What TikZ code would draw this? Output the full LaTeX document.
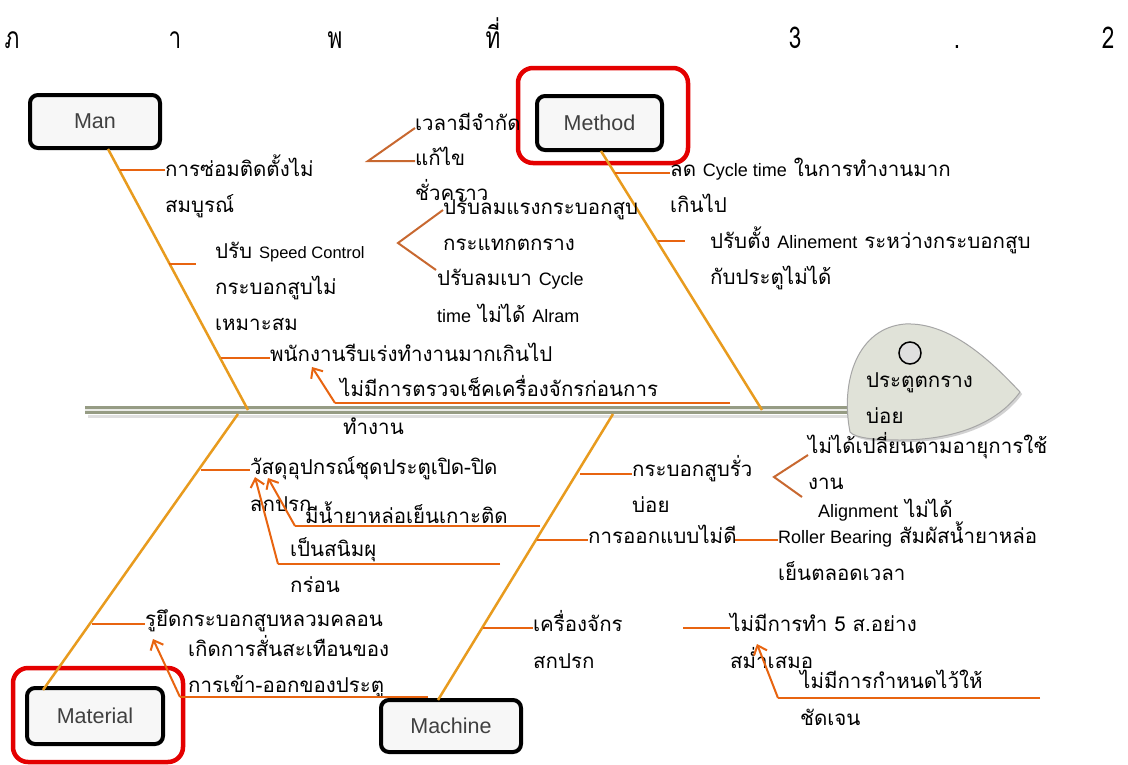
\documentclass[tikz,border=0pt]{standalone}
\usepackage{fontspec}
\usepackage{graphicx}
\usetikzlibrary{arrows.meta,shadows}
\newfontfamily\thai[Script=Thai]{Loma}
\newfontfamily\lat{Liberation Sans}
\newcommand\en[1]{{\lat\fontsize{18}{20}\selectfont #1}}
\newcommand\ens[1]{{\lat\fontsize{16.5}{18}\selectfont #1}}
\definecolor{bonec}{RGB}{232,155,30}
\definecolor{subc}{RGB}{232,100,16}
\definecolor{brc}{RGB}{200,104,48}
\definecolor{redc}{RGB}{228,0,0}
\definecolor{spinec}{RGB}{150,156,132}
\definecolor{headc}{RGB}{224,226,216}
\begin{document}
\begin{tikzpicture}[x=1pt,y=-1pt,
 lbl/.style={anchor=base west, inner sep=0pt, font=\thai\fontsize{20.5}{24}\selectfont},
 catbox/.style={draw=black, line width=4pt, rounded corners=8pt, fill=gray!6, font=\lat\fontsize{21.5}{24}\selectfont, text=black!75},
 redbox/.style={draw=redc, line width=4.5pt, rounded corners=15pt},
 bone/.style={draw=bonec, line width=2.5pt},
 subl/.style={draw=subc, line width=2pt},
 brk/.style={draw=brc, line width=2pt},
 arr/.style={draw=subc, line width=2pt, -{Straight Barb[length=8pt,width=14pt]}},
 ttl/.style={anchor=base, inner sep=0pt, font=\thai\fontsize{30}{30}\selectfont}]
\useasboundingbox (0,0) rectangle (1128,764);
\fill[white] (0,0) rectangle (1128,764);

% title
\node[ttl] (t1) at (12,48) {\scalebox{0.75}[1]{ภ}};
\node[ttl] (t2) at (175,48) {\scalebox{0.75}[1]{า}};
\node[ttl] (t3) at (335,48) {\scalebox{0.75}[1]{พ}};
\node[ttl] (t4) at (493,48) {\scalebox{0.75}[1]{ที่}};
\node[ttl] (t5) at (795,48) {\scalebox{0.75}[1]{3}};
\node[ttl] (t6) at (957,48) {\scalebox{0.75}[1]{.}};
\node[ttl] (t7) at (1108,48) {\scalebox{0.75}[1]{2}};

% spine
\coordinate (spL) at (85,410);
\coordinate (spR) at (860,410);
\draw[line width=3pt, gray!25] (88,416) -- (858,416);
\draw[line width=8pt, spinec] (spL) -- (spR);
\draw[line width=2pt, white!80!spinec] (spL) -- (spR);

% head
\path[fill=headc, draw=gray!70, line width=1pt, drop shadow={opacity=0.35}] (850,432) .. controls (840,380) and (858,328) .. (905,324) .. controls (950,322) and (990,360) .. (1020,392) .. controls (1000,420) and (960,440) .. (900,440) .. controls (875,440) and (855,438) .. (850,432) -- cycle;
\node[draw=black, line width=1.5pt, circle, minimum size=22pt, inner sep=0pt, fill=gray!25] (hole) at (910,353) {};
\node[lbl] (h1) at (866,387) {ประตูตกราง};
\node[lbl] (h2) at (866,423) {บ่อย};

% category boxes
\node[redbox, minimum width=170pt, minimum height=95pt] (methodR) at (603,115.5) {};
\node[redbox, minimum width=170pt, minimum height=94pt] (materialR) at (98,715) {};
\node[catbox, minimum width=130pt, minimum height=53pt] (man) at (95,121.5) {Man};
\node[catbox, minimum width=125pt, minimum height=54pt] (method) at (599.5,123) {Method};
\node[catbox, minimum width=136pt, minimum height=56pt] (material) at (95,716) {Material};
\node[catbox, minimum width=140pt, minimum height=52pt] (machine) at (451,726) {Machine};

% bones
\coordinate (manS) at (108,149);
\coordinate (manE) at (248,410);
\coordinate (metS) at (601,151);
\coordinate (metE) at (762,410);
\coordinate (matS) at (43,690);
\coordinate (matE) at (238,414);
\coordinate (macS) at (438,700);
\coordinate (macE) at (613,414);
\draw[bone] (manS) -- (manE);
\draw[bone] (metS) -- (metE);
\draw[bone] (matS) -- (matE);
\draw[bone] (macS) -- (macE);

% ---- Man ----
\node[lbl] (m1a) at (165,176) {การซ่อมติดตั้งไม่};
\node[lbl] (m1b) at (165,212) {สมบูรณ์};
\coordinate (m1s) at (120,170);
\draw[subl] (m1s) -- (m1a.west |- m1s);
\node[lbl] (m2a) at (415,130) {เวลามีจำกัด};
\node[lbl] (m2b) at (415,165) {แก้ไข};
\node[lbl] (m2c) at (415,200) {ชั่วคราว};
\coordinate (b1v) at (368,161);
\draw[brk] (m2a.west |- 0,128) -- (b1v) -- (m2b.west |- b1v);
\node[lbl] (m3a) at (215,258) {ปรับ \ens{Speed Control}};
\node[lbl] (m3b) at (215,294) {กระบอกสูบไม่};
\node[lbl] (m3c) at (215,330) {เหมาะสม};
\coordinate (m3s) at (169,264);
\coordinate (m3e) at (196,264);
\draw[subl] (m3s) -- (m3e);
\node[lbl] (m4a) at (443,214) {ปรับลมแรงกระบอกสูบ};
\node[lbl] (m4b) at (443,250) {กระแทกตกราง};
\node[lbl] (m5a) at (437,285) {ปรับลมเบา \en{Cycle}};
\node[lbl] (m5b) at (437,322) {\en{time} ไม่ได้ \en{Alram}};
\coordinate (b2v) at (398,243);
\coordinate (b2u) at (443,210);
\coordinate (b2d) at (436,270);
\draw[brk] (b2u) -- (b2v) -- (b2d);
\node[lbl] (m6) at (270,361) {พนักงานรีบเร่งทำงานมากเกินไป};
\coordinate (m6s) at (221,358);
\draw[subl] (m6s) -- (m6.west |- m6s);
\node[lbl] (m7a) at (340,396) {ไม่มีการตรวจเช็คเครื่องจักรก่อนการ};
\node[lbl] (m7b) at (343,434) {ทำงาน};
\coordinate (m7s) at (335,403);
\coordinate (m7e) at (730,403);
\coordinate (m7t) at (312,367);
\draw[subl] (m7e) -- (m7s);
\draw[arr] (m7s) -- (m7t);

% ---- Method ----
\node[lbl] (d1a) at (670,176) {ลด \en{Cycle time} ในการทำงานมาก};
\node[lbl] (d1b) at (670,212) {เกินไป};
\coordinate (d1s) at (615,173);
\draw[subl] (d1s) -- (d1a.west |- d1s);
\node[lbl] (d2a) at (710,248) {ปรับตั้ง \en{Alinement} ระหว่างกระบอกสูบ};
\node[lbl] (d2b) at (710,284) {กับประตูไม่ได้};
\coordinate (d2s) at (658,241);
\coordinate (d2e) at (685,241);
\draw[subl] (d2s) -- (d2e);

% ---- Material ----
\node[lbl] (a1a) at (250,474) {วัสดุอุปกรณ์ชุดประตูเปิด-ปิด};
\node[lbl] (a1b) at (250,511) {สกปรก};
\coordinate (a1s) at (201,470);
\draw[subl] (a1s) -- (a1a.west |- a1s);
\node[lbl] (a2) at (305,523) {มีน้ำยาหล่อเย็นเกาะติด};
\coordinate (a2s) at (295,526);
\coordinate (a2e) at (540,526);
\coordinate (a2t) at (268,478);
\draw[subl] (a2e) -- (a2s);
\draw[arr] (a2s) -- (a2t);
\node[lbl] (a3a) at (290,556) {เป็นสนิมผุ};
\node[lbl] (a3b) at (290,592) {กร่อน};
\coordinate (a3s) at (278,564);
\coordinate (a3e) at (500,564);
\coordinate (a3t) at (255,477);
\draw[subl] (a3e) -- (a3s);
\draw[arr] (a3s) -- (a3t);
\node[lbl] (a4) at (145,626) {รูยึดกระบอกสูบหลวมคลอน};
\coordinate (a4s) at (92,624);
\draw[subl] (a4s) -- (a4.west |- a4s);
\node[lbl] (a5a) at (188,656) {เกิดการสั่นสะเทือนของ};
\node[lbl] (a5b) at (188,692) {การเข้า-ออกของประตู};
\coordinate (a5s) at (180,697);
\coordinate (a5e) at (428,697);
\coordinate (a5t) at (153,639);
\draw[subl] (a5e) -- (a5s);
\draw[arr] (a5s) -- (a5t);

% ---- Machine ----
\node[lbl] (c1a) at (632,476) {กระบอกสูบรั่ว};
\node[lbl] (c1b) at (632,512) {บ่อย};
\coordinate (c1s) at (580,474);
\draw[subl] (c1s) -- (c1a.west |- c1s);
\node[lbl] (c2a) at (808,453) {ไม่ได้เปลี่ยนตามอายุการใช้};
\node[lbl] (c2b) at (808,489) {งาน};
\node[lbl] (c3) at (818,517) {\en{Alignment} ไม่ได้};
\coordinate (b3v) at (774,477);
\coordinate (b3u) at (808,455);
\coordinate (b3d) at (802,497);
\draw[brk] (b3u) -- (b3v) -- (b3d);
\node[lbl] (c4) at (588,543) {การออกแบบไม่ดี};
\coordinate (c4s) at (537,540);
\draw[subl] (c4s) -- (c4.west |- c4s);
\node[lbl] (c5a) at (778,543) {\en{Roller Bearing} สัมผัสน้ำยาหล่อ};
\node[lbl] (c5b) at (778,580) {เย็นตลอดเวลา};
\coordinate (c5s) at (735,540);
\draw[subl] (c5s) -- (c5a.west |- c5s);
\node[lbl] (c6a) at (533,631) {เครื่องจักร};
\node[lbl] (c6b) at (533,668) {สกปรก};
\coordinate (c6s) at (483,628);
\draw[subl] (c6s) -- (c6a.west |- c6s);
\node[lbl] (c7a) at (730,631) {ไม่มีการทำ 5 ส.อย่าง};
\node[lbl] (c7b) at (730,668) {สม่ำเสมอ};
\coordinate (c7s) at (683,628);
\draw[subl] (c7s) -- (c7a.west |- c7s);
\node[lbl] (c8a) at (800,688) {ไม่มีการกำหนดไว้ให้};
\node[lbl] (c8b) at (800,725) {ชัดเจน};
\coordinate (c8s) at (778,698);
\coordinate (c8e) at (1040,698);
\coordinate (c8t) at (757,644);
\draw[subl] (c8e) -- (c8s);
\draw[arr] (c8s) -- (c8t);
\end{tikzpicture}
\end{document}
